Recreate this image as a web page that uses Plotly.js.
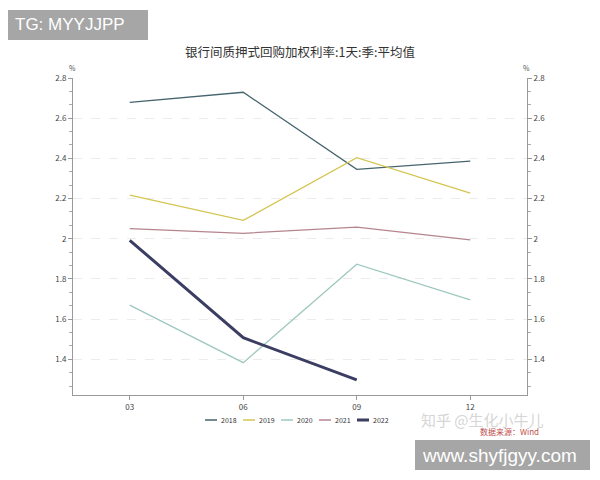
<!DOCTYPE html>
<html>
<head>
<meta charset="utf-8">
<script src="https://cdn.plot.ly/plotly-3.0.1.min.js"></script>
<style>html,body{margin:0;padding:0;background:#fff;}#chart{width:600px;height:480px;}</style>
</head>
<body>
<div id="chart"></div>
<script>
const quarters = ["03", "06", "09", "12"];
const years = ["2018", "2019", "2020", "2021", "2022"];
const v2018 = [2.679, 2.729, 2.345, 2.386];
const v2019 = [2.217, 2.091, 2.403, 2.227];
const v2020 = [1.669, 1.383, 1.873, 1.696];
const v2021 = [2.050, 2.027, 2.058, 1.994];
const v2022 = [1.992, 1.507, 1.297];
const yTickVals = [1.4, 1.6, 1.8, 2.0, 2.2, 2.4, 2.6, 2.8];
const yTickText = ["1.4", "1.6", "1.8", "2", "2.2", "2.4", "2.6", "2.8"];
const titleText = "银行间质押式回购加权利率:1天:季:平均值";

const seriesVals = [v2018, v2019, v2020, v2021, v2022];
const colors = ["#46646e", "#d4c552", "#9ec8bf", "#b5858f", "#3b3e62"];
const widths = [1.3, 1.3, 1.3, 1.3, 3];

const traces = years.map((y, i) => ({
  x: quarters.slice(0, seriesVals[i].length),
  y: seriesVals[i],
  name: y,
  type: "scatter",
  mode: "lines",
  line: {color: colors[i], width: widths[i]},
  hoverinfo: "skip"
}));
traces.push({
  x: quarters, y: v2018, yaxis: "y2", type: "scatter", mode: "lines",
  line: {color: "rgba(0,0,0,0)", width: 0}, showlegend: false, hoverinfo: "skip"
});

const font = "'Noto Sans CJK SC', 'Noto Sans', sans-serif";
const yRange = [1.222, 2.8];
const PT = 78, PH = 317, PL = 73, PW = 454;
const px = x => (x - PL) / PW;
const py = y => 1 - (y - PT) / PH;

const axisCommon = {
  range: yRange, tickvals: yTickVals, ticktext: yTickText,
  showline: true, linecolor: "#999", linewidth: 1,
  ticks: "outside", ticklen: 4, tickcolor: "#999",
  tickfont: {size: 8, color: "#444", family: font},
  zeroline: false, fixedrange: true,
  minor: {tick0: 1.4, dtick: 0.2/3, ticks: "outside", ticklen: 3, tickcolor: "#aaa", showgrid: false}
};

const layout = {
  width: 600, height: 480,
  margin: {l: PL, r: 600 - PL - PW, t: PT, b: 480 - PT - PH, pad: 0},
  paper_bgcolor: "#fff", plot_bgcolor: "#fff",
  font: {family: font, color: "#444"},
  title: {text: titleText, x: 0.5, xanchor: "center", y: 1 - 53/480, yanchor: "middle",
          font: {size: 12.5, color: "#333", family: font}},
  xaxis: {
    type: "category", range: [-0.5, 3.5],
    showline: true, linecolor: "#999", linewidth: 1,
    ticks: "outside", ticklen: 4, tickcolor: "#999",
    tickfont: {size: 8, color: "#444", family: font},
    showgrid: false, zeroline: false, fixedrange: true
  },
  yaxis: Object.assign({}, axisCommon, {
    side: "left", showgrid: true, gridcolor: "#ececec", griddash: "dash", gridwidth: 1
  }),
  yaxis2: Object.assign({}, axisCommon, {
    side: "right", overlaying: "y", showgrid: false
  }),
  showlegend: true,
  legend: {
    orientation: "h", x: 0.5, xanchor: "center", y: -0.05, yanchor: "top",
    font: {size: 7, color: "#333", family: font}, itemwidth: 30,
    bgcolor: "rgba(0,0,0,0)"
  },
  shapes: [
    {type: "rect", xref: "paper", yref: "paper", x0: px(8), x1: px(148), y0: py(40), y1: py(10),
      fillcolor: "#a6a6a6", line: {width: 0}, layer: "above"},
    {type: "rect", xref: "paper", yref: "paper", x0: px(415), x1: px(590), y0: py(470), y1: py(440),
      fillcolor: "#a6a6a6", line: {width: 0}, layer: "above"}
  ],
  annotations: [
    {text: "%", xref: "paper", yref: "paper", x: px(72), y: py(68), showarrow: false,
      font: {size: 7, color: "#555"}, xanchor: "center", yanchor: "middle"},
    {text: "%", xref: "paper", yref: "paper", x: px(526), y: py(68), showarrow: false,
      font: {size: 7, color: "#555"}, xanchor: "center", yanchor: "middle"},
    {text: "TG: MYYJJPP", xref: "paper", yref: "paper", x: px(13), y: py(25), showarrow: false,
      font: {size: 17, color: "#fff", family: "'Liberation Sans', Arial, sans-serif"}, xanchor: "left", yanchor: "middle"},
    {text: "www.shyfjgyy.com", xref: "paper", yref: "paper", x: px(420), y: py(455), showarrow: false,
      font: {size: 19, color: "#fff", family: "'Liberation Sans', Arial, sans-serif"}, xanchor: "left", yanchor: "middle"},
    {text: "知乎 @生化小牛儿", xref: "paper", yref: "paper", x: px(419), y: py(419), showarrow: false,
      font: {size: 15, color: "#d6d6d6", family: font}, xanchor: "left", yanchor: "middle"},
    {text: "数据来源：Wind", xref: "paper", yref: "paper", x: px(541), y: py(431), showarrow: false,
      font: {size: 8, color: "#c0504d", family: font}, xanchor: "right", yanchor: "middle"}
  ]
};

Plotly.newPlot("chart", traces, layout, {displayModeBar: false, staticPlot: true}).then(gd => {
  // compact the legend entries to match the reference's short symbols
  const items = gd.querySelectorAll(".legend .traces");
  items.forEach((g, i) => {
    const m = (g.getAttribute("transform") || "").match(/translate\(([-\d.]+),\s*([-\d.]+)\)/);
    const ty = m ? parseFloat(m[2]) : 0;
    g.setAttribute("transform", "translate(" + (i * 38) + "," + ty + ")");
    g.querySelectorAll("path.js-line").forEach(p => p.setAttribute("d", "M0,0h12"));
    const t = g.querySelector("text.legendtext");
    if (t) t.setAttribute("x", 16);
  });
  if (items.length) {
    const first = items[0].querySelector("path.js-line").getBoundingClientRect();
    const leg = gd.querySelector(".legend");
    const m = (leg.getAttribute("transform") || "").match(/translate\(([-\d.]+),\s*([-\d.]+)\)/);
    const lx = m ? parseFloat(m[1]) : 0, ly = m ? parseFloat(m[2]) : 0;
    const dx = 205 - first.left, dy = 420 - (first.top + first.height / 2);
    leg.setAttribute("transform", "translate(" + (lx + dx) + "," + (ly + dy) + ")");
  }
});
</script>
</body>
</html>
